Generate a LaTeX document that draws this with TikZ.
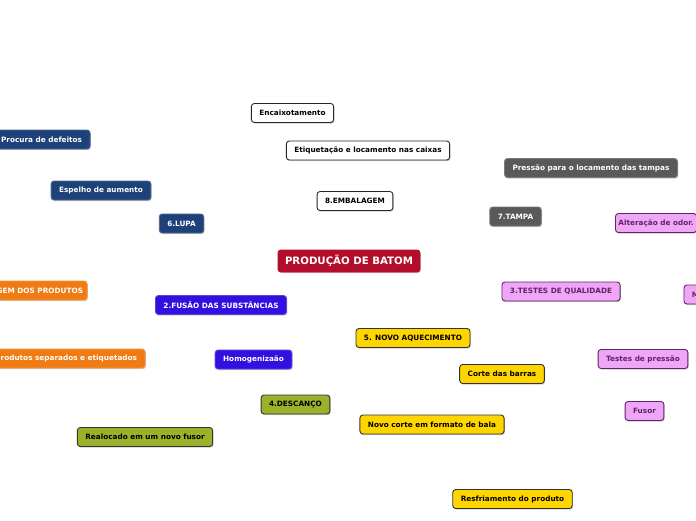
\documentclass[tikz,border=0pt]{standalone}
\usepackage{fontspec}
\setmainfont{DejaVu Sans}
\usepackage{xcolor}
\usetikzlibrary{shadows}
\definecolor{navy}{HTML}{1D4178}
\definecolor{slate}{HTML}{595959}
\definecolor{lilac}{HTML}{F0A6F7}
\definecolor{plum}{HTML}{5E2466}
\definecolor{crimson}{HTML}{B20D2B}
\definecolor{tangerine}{HTML}{F07B12}
\definecolor{violet}{HTML}{3310DF}
\definecolor{gold}{HTML}{FFD500}
\definecolor{olive}{HTML}{9CB02A}

\begin{document}
\begin{tikzpicture}[x=1pt, y=-1pt,
    topic/.style={draw, rounded corners=3pt, line width=0.9pt, minimum height=19pt, inner xsep=8pt, inner ysep=2pt,
        font=\fontsize{7.3}{8}\selectfont\bfseries,
        drop shadow={shadow xshift=0.8pt, shadow yshift=-1.2pt, fill=black!40, opacity=0.5}, #1},
    box/.style={topic={fill=white, draw=black!85, text=black}},
    lupa/.style={topic={fill=navy, draw=navy!80!white, text=white}},
    tampa/.style={topic={fill=slate, draw=slate!80!white, text=white}},
    teste/.style={topic={fill=lilac, draw=plum, text=plum}},
    rotulo/.style={topic={fill=tangerine, draw=tangerine!80!white, text=white}},
    fusao/.style={topic={fill=violet, draw=violet!80!white, text=white}},
    aquec/.style={topic={fill=gold, draw=black!80, text=black}},
    descanso/.style={topic={fill=olive, draw=black!80, text=black}},
]
    \path[use as bounding box, clip] (0,0) rectangle (696,520);

    % centro
    \node[topic={fill=crimson, draw=crimson, text=white, minimum height=22pt, inner xsep=7pt, font=\fontsize{10.2}{12}\selectfont\bfseries}] (batom) at (349,261) {PRODUÇÃO DE BATOM};

    % 8.EMBALAGEM
    \node[box] (embal) at (355,201) {8.EMBALAGEM};
    \node[box] (etiq) at (368,150.5) {Etiquetação e locamento nas caixas};
    \node[box] (encaix) at (292.5,113) {Encaixotamento};

    % 6.LUPA
    \node[lupa] (lupa) at (181.5,223.5) {6.LUPA};
    \node[lupa] (espelho) at (101,190.5) {Espelho de aumento};
    \node[lupa, anchor=east] (defeitos) at (90.5,139.5) {Procura de defeitos};

    % 7.TAMPA
    \node[tampa] (tampa) at (515.5,216.5) {7.TAMPA};
    \node[tampa] (pressao) at (591,168) {Pressão para o locamento das tampas};

    % 3.TESTES DE QUALIDADE
    \node[teste] (testes) at (561,291.5) {3.TESTES DE QUALIDADE};
    \node[teste, anchor=west, inner xsep=3pt] (odor) at (615,223) {Alteração de odor.};
    \node[teste, anchor=west] (mcut) at (683.5,294.5) {M};
    \node[teste] (tpressao) at (643,359) {Testes de pressão};
    \node[teste] (fusor) at (644.5,411) {Fusor};

    % rotulagem
    \node[rotulo, anchor=east, inner xsep=4pt] (rotul) at (87.5,290.5) {GEM DOS PRODUTOS};
    \node[rotulo, anchor=east] (separ) at (145.5,358.5) {rodutos separados e etiquetados};

    % 2.FUSAO
    \node[fusao] (fusao) at (221,305) {2.FUSÃO DAS SUBSTÂNCIAS};
    \node[fusao] (homog) at (253.5,359.5) {Homogenizaão};

    % 5. NOVO AQUECIMENTO
    \node[aquec] (aquec) at (413,338) {5. NOVO AQUECIMENTO};
    \node[aquec] (barras) at (502,374) {Corte das barras};
    \node[aquec] (bala) at (432,424.5) {Novo corte em formato de bala};
    \node[aquec] (resfr) at (512.5,499) {Resfriamento do produto};

    % 4.DESCANCO
    \node[descanso] (descanso) at (295.5,404.5) {4.DESCANÇO};
    \node[descanso] (realoc) at (145,437) {Realocado em um novo fusor};
\end{tikzpicture}
\end{document}
